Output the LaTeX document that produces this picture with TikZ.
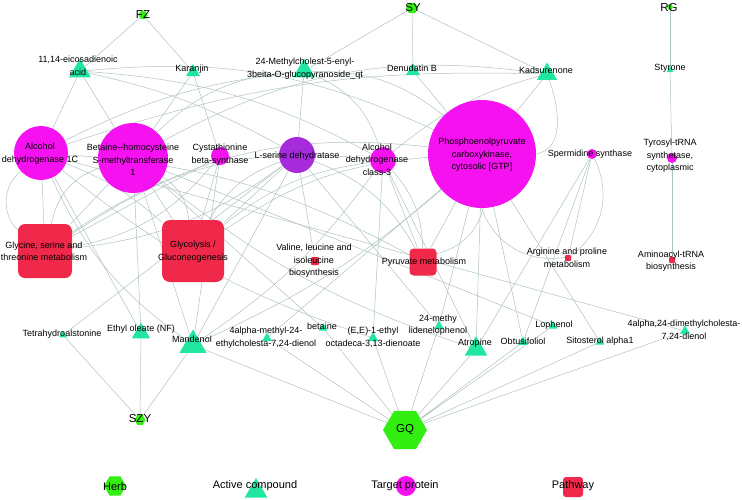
\documentclass[tikz,border=0pt]{standalone}
\usepackage{fontspec}
\setmainfont{Liberation Sans}
\usetikzlibrary{shapes.geometric, backgrounds}

\definecolor{herbgreen}{HTML}{33EE11}
\definecolor{cmpdgreen}{HTML}{20E6A0}
\definecolor{protpink}{HTML}{F511F0}
\definecolor{serpurple}{HTML}{A52BDB}
\definecolor{pwayred}{HTML}{F0284A}
\definecolor{edgegray}{HTML}{AEC2C2}

\begin{document}
\begin{tikzpicture}[
    x=1pt, y=-1pt,
    herb/.style={regular polygon, regular polygon sides=6, fill=herbgreen, inner sep=0pt},
    cmpd/.style={regular polygon, regular polygon sides=3, fill=cmpdgreen, inner sep=0pt},
    prot/.style={circle, fill=protpink, inner sep=0pt},
    pway/.style={rectangle, rounded corners=6pt, fill=pwayred, inner sep=0pt},
    txt/.style={align=center, font=\fontsize{9}{12.5}\selectfont, inner sep=0pt},
    htxt/.style={font=\fontsize{11.5}{13}\selectfont, inner sep=0pt},
    legtxt/.style={font=\fontsize{11}{13}\selectfont, inner sep=0pt},
    lnk/.style={draw=edgegray, line width=0.5pt}
]
\useasboundingbox (0,0) rectangle (742,499);

% Herbs
\node (fz) [herb, minimum size=9pt] at (143,15) {};
\node (sy) [herb, minimum size=12pt] at (412,8) {};
\node (rg) [herb, minimum size=6pt] at (670,7) {};
\node (szy) [herb, minimum size=11pt] at (140,420) {};
\node (gq) [herb, minimum size=44pt] at (405,430) {};

% Active compounds
\node (eico) [cmpd, minimum size=25pt] at (80,71) {};
\node (kar) [cmpd, minimum size=16pt] at (193,72) {};
\node (mchol) [cmpd, minimum size=25pt] at (304,71) {};
\node (denu) [cmpd, minimum size=16pt] at (413,71) {};
\node (kads) [cmpd, minimum size=23pt] at (547,74) {};
\node (styr) [cmpd, minimum size=8pt] at (670,70) {};
\node (tetra) [cmpd, minimum size=9pt] at (63,335) {};
\node (ethyl) [cmpd, minimum size=21pt] at (141,333) {};
\node (mand) [cmpd, minimum size=31pt] at (193,345) {};
\node (amet) [cmpd, minimum size=11pt] at (267,338) {};
\node (beta) [cmpd, minimum size=10pt] at (323,328) {};
\node (eeeth) [cmpd, minimum size=12pt] at (373,338) {};
\node (mlid) [cmpd, minimum size=11pt] at (439,326) {};
\node (atro) [cmpd, minimum size=26pt] at (476,349) {};
\node (loph) [cmpd, minimum size=10pt] at (553,326) {};
\node (obtu) [cmpd, minimum size=11pt] at (523,342) {};
\node (sito) [cmpd, minimum size=10pt] at (600,342) {};
\node (adim) [cmpd, minimum size=11pt] at (685,331) {};

% Target proteins
\node (adh1c) [prot, minimum size=54pt] at (41,153) {};
\node (bhmt) [prot, minimum size=70pt] at (133,158) {};
\node (cbs) [prot, minimum size=18pt] at (220,156) {};
\node (lsd) [prot, fill=serpurple, minimum size=36pt] at (297,155) {};
\node (adh3) [prot, minimum size=26pt] at (383,160) {};
\node (pepck) [prot, minimum size=108pt] at (482,154) {};
\node (spds) [prot, minimum size=10pt] at (592,154) {};
\node (tyrs) [prot, minimum size=10pt] at (672,158) {};

% Pathways
\node (gly) [pway, minimum size=54pt, rounded corners=7pt] at (45,251) {};
\node (glyco) [pway, minimum size=62pt, rounded corners=8pt] at (193,251) {};
\node (val) [pway, minimum size=8pt, rounded corners=1pt] at (315,261) {};
\node (pyr) [pway, minimum size=27pt, rounded corners=4pt] at (423,262) {};
\node (arg) [pway, minimum size=6pt, rounded corners=1pt] at (568,258) {};
\node (amino) [pway, minimum size=6pt, rounded corners=1pt] at (672,260) {};

% Links
\begin{scope}[on background layer]
% herb - compound
\draw [lnk] (fz) -- (eico) (fz) -- (kar);
\draw [lnk] (sy) -- (mchol) (sy) -- (denu) (sy) -- (kads);
\draw [lnk] (rg) -- (styr);
\draw [lnk] (szy) -- (tetra) (szy) -- (ethyl) (szy) -- (mand);
\draw [lnk] (gq) -- (mand) (gq) -- (amet) (gq) -- (beta) (gq) -- (eeeth) (gq) -- (mlid);
\draw [lnk] (gq) -- (atro) (gq) -- (loph) (gq) -- (obtu) (gq) -- (sito) (gq) -- (adim);
% compound - protein
\draw [lnk] (eico) -- (adh1c) (eico) -- (bhmt);
\draw [lnk] (eico) to[bend left=8] (lsd);
\draw [lnk] (eico) to[bend left=12] (adh3);
\draw [lnk] (eico) to[bend left=15] (pepck);
\draw [lnk] (kar) -- (bhmt) (kar) -- (cbs);
\draw [lnk] (mchol) -- (lsd);
\draw [lnk] (mchol) to[bend right=20] (bhmt);
\draw [lnk] (mchol) to[bend left=25] (adh3);
\draw [lnk] (mchol) to[bend left=20] (pepck);
\draw [lnk] (mchol) to[bend right=10] (adh1c);
\draw [lnk] (denu) -- (pepck);
\draw [lnk] (kads) -- (pepck);
\draw [lnk] (kads) to[out=-70, in=10] (pepck.east);
\draw [lnk] (kads) to[bend right=18] (bhmt);
\draw [lnk] (kads) to[bend right=12] (adh3);
\draw [lnk] (kads) to[bend right=10] (adh1c);
\draw [lnk] (styr) -- (tyrs);
\draw [lnk] (tetra) -- (lsd);
\draw [lnk] (ethyl) -- (bhmt) (ethyl) -- (adh1c);
\draw [lnk] (mand) -- (bhmt) (mand) -- (cbs) (mand) -- (lsd);
\draw [lnk] (mand) to[bend right=10] (adh3);
\draw [lnk] (mand) to[bend right=8] (pepck);
\draw [lnk] (mand) to[bend left=15] (adh1c);
\draw [lnk] (amet) -- (pepck);
\draw [lnk] (beta) -- (bhmt);
\draw [lnk] (eeeth) -- (adh3);
\draw [lnk] (eeeth) to[bend left=10] (adh1c);
\draw [lnk] (mlid) -- (pepck) (mlid) -- (lsd);
\draw [lnk] (atro) -- (pepck) (atro) -- (spds) (atro) -- (adh3);
\draw [lnk] (atro) to[bend left=10] (bhmt);
\draw [lnk] (loph) -- (bhmt);
\draw [lnk] (obtu) -- (spds) (obtu) -- (pepck);
\draw [lnk] (sito) -- (pepck);
\draw [lnk] (adim) -- (adh1c);
% protein - pathway
\draw [lnk] (adh1c) -- (gly);
\draw [lnk] (adh1c) to[bend right=50] (gly);
\draw [lnk] (adh1c) to[bend left=10] (glyco);
\draw [lnk] (adh1c) to[bend left=12] (pyr);
\draw [lnk] (bhmt) -- (gly) (bhmt) -- (glyco);
\draw [lnk] (bhmt) to[bend right=30] (gly);
\draw [lnk] (bhmt) to[bend left=25] (glyco);
\draw [lnk] (cbs) -- (gly) (cbs) -- (glyco);
\draw [lnk] (cbs) to[bend left=20] (gly);
\draw [lnk] (lsd) -- (val) (lsd) -- (glyco);
\draw [lnk] (lsd) to[bend left=15] (gly);
\draw [lnk] (lsd) to[bend left=20] (pyr);
\draw [lnk] (lsd) to[bend right=20] (glyco);
\draw [lnk] (adh3) -- (pyr);
\draw [lnk] (adh3) to[bend right=15] (glyco);
\draw [lnk] (adh3) to[bend right=20] (gly);
\draw [lnk] (adh3) to[bend left=20] (pyr);
\draw [lnk] (pepck) -- (pyr);
\draw [lnk] (pepck) to[bend right=15] (glyco);
\draw [lnk] (pepck) to[bend right=20] (gly);
\draw [lnk] (pepck) to[bend left=30] (pyr);
\draw [lnk] (pepck) to[bend right=40] (arg);
\draw [lnk] (spds) -- (arg);
\draw [lnk] (spds) to[bend left=40] (arg);
\draw [lnk] (tyrs) -- (amino);
\end{scope}

% Labels
\node (fz-t) [htxt] at (143,15) {FZ};
\node (sy-t) [htxt] at (413,8) {SY};
\node (rg-t) [htxt] at (669,8) {RG};
\node (szy-t) [htxt] at (140,419) {SZY};
\node (gq-t) [htxt] at (405,430) {GQ};

\node (eico-t) [txt] at (78,66) {11,14-eicosadienoic\\acid};
\node (kar-t) [txt] at (192,69) {Karanjin};
\node (mchol-t) [txt] at (305,68.5) {24-Methylcholest-5-enyl-\\3beita-O-glucopyranoside\_qt};
\node (denu-t) [txt] at (412,68) {Denudatin B};
\node (kads-t) [txt] at (546,70) {Kadsurenone};
\node (styr-t) [txt] at (670,68) {Styrone};
\node (tetra-t) [txt] at (62,334) {Tetrahydroalstonine};
\node (ethyl-t) [txt] at (141,329) {Ethyl oleate (NF)};
\node (mand-t) [txt] at (192,339) {Mandenol};
\node (amet-t) [txt] at (266,337.5) {4alpha-methyl-24-\\ethylcholesta-7,24-dienol};
\node (beta-t) [txt] at (322,326) {betaine};
\node (eeeth-t) [txt] at (373,337.5) {(E,E)-1-ethyl\\octadeca-3,13-dienoate};
\node (mlid-t) [txt] at (438,325) {24-methy\\lidenelophenol};
\node (atro-t) [txt] at (475,343) {Atropine};
\node (loph-t) [txt] at (554,325) {Lophenol};
\node (obtu-t) [txt] at (523,341) {Obtusifoliol};
\node (sito-t) [txt] at (600,341) {Sitosterol alpha1};
\node (adim-t) [txt] at (684,330.5) {4alpha,24-dimethylcholesta-\\7,24-dienol};

\node (adh1c-t) [txt] at (40,153.5) {Alcohol\\dehydrogenase 1C};
\node (bhmt-t) [txt] at (133,160) {Betaine-{}-homocysteine\\S-methyltransferase\\1};
\node (cbs-t) [txt] at (220,154.5) {Cystathionine\\beta-synthase};
\node (lsd-t) [txt] at (297,156) {L-serine dehydratase};
\node (adh3-t) [txt] at (377,159.5) {Alcohol\\dehydrogenase\\class-3};
\node (pepck-t) [txt] at (482,155) {Phosphoenolpyruvate\\carboxykinase,\\cytosolic [GTP]};
\node (spds-t) [txt] at (590,154) {Spermidine synthase};
\node (tyrs-t) [txt] at (670,156) {Tyrosyl-tRNA\\synthetase,\\cytoplasmic};

\node (gly-t) [txt] at (44,251.5) {Glycine, serine and\\threonine metabolism};
\node (glyco-t) [txt] at (193,251.5) {Glycolysis /\\Gluconeogenesis};
\node (val-t) [txt] at (314,261) {Valine, leucine and\\isoleucine\\biosynthesis};
\node (pyr-t) [txt] at (424,262) {Pyruvate metabolism};
\node (arg-t) [txt] at (567,258) {Arginine and proline\\metabolism};
\node (amino-t) [txt] at (671,261) {Aminoacyl-tRNA\\biosynthesis};

% Legend
\node (lgh) [herb, minimum size=22pt] at (115,486) {};
\node (lgc) [cmpd, minimum size=26pt] at (256,491) {};
\node (lgp) [prot, minimum size=20pt] at (406,486) {};
\node (lgw) [pway, minimum size=20pt, rounded corners=3pt] at (573,487) {};
\node (lgh-t) [legtxt] at (115,487) {Herb};
\node (lgc-t) [legtxt] at (255,486) {Active compound};
\node (lgp-t) [legtxt] at (405,486) {Target protein};
\node (lgw-t) [legtxt] at (573,486) {Pathway};

\end{tikzpicture}
\end{document}
